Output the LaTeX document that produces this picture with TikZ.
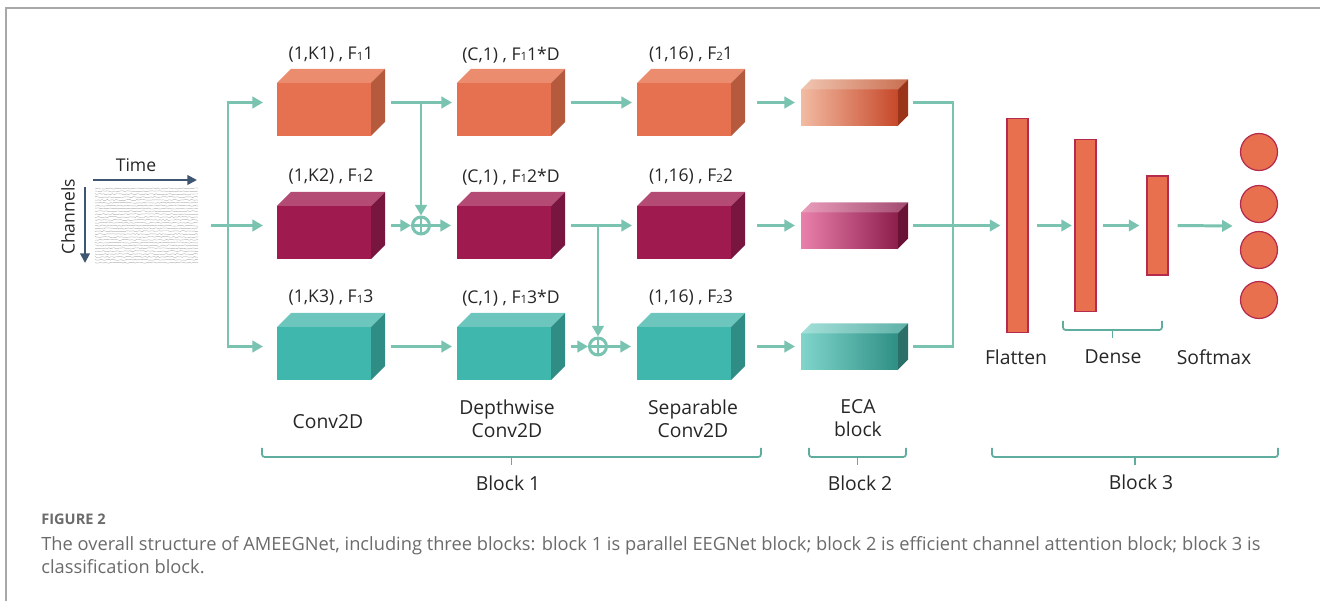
\documentclass[tikz,border=0pt]{standalone}
\usepackage{fontspec}
\setmainfont{Open Sans}
\usepackage{tikz}
\usetikzlibrary{arrows.meta}

\definecolor{flowc}{HTML}{7AC3B1}
\definecolor{bracec}{HTML}{5EAD9E}
\definecolor{axisc}{HTML}{3E5672}
\definecolor{textc}{HTML}{262626}
\definecolor{capc}{HTML}{6B6B6B}
\definecolor{framec}{HTML}{A8A8A8}
% faces of the conv blocks: front, top, side
\definecolor{orgF}{HTML}{E57150}\definecolor{orgT}{HTML}{EC8C6E}\definecolor{orgS}{HTML}{B65A3E}
\definecolor{magF}{HTML}{9E1A4F}\definecolor{magT}{HTML}{B44B74}\definecolor{magS}{HTML}{79163F}
\definecolor{tealF}{HTML}{40B7AC}\definecolor{tealT}{HTML}{6DC6BD}\definecolor{tealS}{HTML}{2F8D85}
% eca blocks, left and right ends of the shading
\definecolor{ecaoA}{HTML}{F2BBA3}\definecolor{ecaoB}{HTML}{C7482A}\definecolor{ecaoC}{HTML}{F1C6B2}\definecolor{ecaoD}{HTML}{C96E50}\definecolor{ecaoS}{HTML}{9A3519}
\definecolor{ecamA}{HTML}{EA80AC}\definecolor{ecamB}{HTML}{8C1E4C}\definecolor{ecamC}{HTML}{EA9DBC}\definecolor{ecamD}{HTML}{A24B70}\definecolor{ecamS}{HTML}{691236}
\definecolor{ecatA}{HTML}{80D5CB}\definecolor{ecatB}{HTML}{2F8F85}\definecolor{ecatC}{HTML}{A3E0D9}\definecolor{ecatD}{HTML}{5FB1A8}\definecolor{ecatS}{HTML}{2A7068}
\definecolor{barc}{HTML}{E8704E}
\definecolor{bard}{HTML}{B52B4E}

% name, x, y (front top left), width, height, depth, front, top, side
\newcommand{\drawcube}[9]{%
	\path[#7] (#2,#3) rectangle ++(#4,#5);
	\path[#8] (#2,#3) -- ++(#6,-#6) -- ++(#4,0) -- ++(-#6,#6) -- cycle;
	\path[#9] ({#2+#4},#3) -- ++(#6,-#6) -- ++(0,#5) -- ++(-#6,#6) -- cycle;
	\node (#1) [inner sep=0pt, outer sep=0pt, minimum width={(#4+#6)*0.02cm}, minimum height={(#5+#6)*0.02cm}] at ({#2+(#4+#6)/2},{#3+(#5-#6)/2}) {};
}
% x1, x2, y
\newcommand{\bracket}[3]{%
	\draw[brace] (#1,#3) -- (#1,{#3+9}) -- (#2,{#3+9}) -- (#2,#3);
	\draw[brace] ({(#1+#2)/2},{#3+9}) -- ++(0,8);
}
\newcommand{\fsub}[1]{\raisebox{-0.4pt}{\fontsize{6.5}{7}\selectfont #1}}

\begin{document}
\begin{tikzpicture}[x=0.02cm, y=-0.02cm,
	flow/.style={draw=flowc, line width=1.7pt, -{Triangle[length=6pt,width=6.5pt]}},
	link/.style={draw=flowc, line width=1.7pt},
	brace/.style={draw=bracec, line width=1pt, rounded corners=1.5pt},
	axis/.style={draw=axisc, line width=1.1pt, -{Triangle[length=5.5pt,width=5.5pt]}},
	eegline/.style={gray!60, line width=0.25pt},
	dimlabel/.style={font=\fontsize{10}{12}\selectfont, text=textc, inner sep=0pt},
	caplabel/.style={font=\fontsize{11}{13.1}\selectfont, text=textc, align=center, inner sep=0pt},
	bar/.style={fill=barc, draw=bard, line width=0.7pt, minimum width=0.42cm, inner sep=0pt},
	unit/.style={circle, fill=barc, draw=bard, line width=0.7pt, minimum size=0.74cm, inner sep=0pt},
	adder/.style={circle, draw=flowc, line width=1.7pt, minimum size=0.34cm, inner sep=0pt,
		path picture={\draw[flowc, line width=1.7pt] (path picture bounding box.north) -- (path picture bounding box.south)
			(path picture bounding box.west) -- (path picture bounding box.east);}}]
	\useasboundingbox (0,0) rectangle (1320,601);
	\draw[framec, line width=0.9pt] (1320,8) -- (6,8) -- (6,601);

	% input signal
	\node (eeg) [inner sep=0pt, minimum width=2.1cm, minimum height=1.56cm] at (146.5,225.5) {};
	\pgfmathsetseed{42}
	\foreach \k in {0,...,26}
		\draw[eegline] plot[domain=95:198, samples=60, smooth] (\x, {188.5+2.85*\k+0.6*rand});
	\node (time) [dimlabel] at (136,165) {Time};
	\node (chan) [dimlabel, rotate=90] at (68,217) {Channels};
	\coordinate (t0) at (93,180);
	\coordinate (t1) at (197,180);
	\coordinate (c0) at (85,187);
	\coordinate (c1) at (85,263);
	\draw[axis] (t0) -- (t1);
	\draw[axis] (c0) -- (c1);

	% block 1
	\drawcube{conv1}{277}{83}{94}{53}{14}{fill=orgF}{fill=orgT}{fill=orgS}
	\drawcube{conv2}{277}{206}{94}{53}{14}{fill=magF}{fill=magT}{fill=magS}
	\drawcube{conv3}{277}{327}{94}{53}{14}{fill=tealF}{fill=tealT}{fill=tealS}
	\drawcube{dw1}{457}{83}{94}{53}{14}{fill=orgF}{fill=orgT}{fill=orgS}
	\drawcube{dw2}{457}{206}{94}{53}{14}{fill=magF}{fill=magT}{fill=magS}
	\drawcube{dw3}{457}{327}{94}{53}{14}{fill=tealF}{fill=tealT}{fill=tealS}
	\drawcube{sep1}{637}{83}{94}{53}{14}{fill=orgF}{fill=orgT}{fill=orgS}
	\drawcube{sep2}{637}{206}{94}{53}{14}{fill=magF}{fill=magT}{fill=magS}
	\drawcube{sep3}{637}{327}{94}{53}{14}{fill=tealF}{fill=tealT}{fill=tealS}

	\node (lconv1) [dimlabel] at (331,55) {(1,K1) , F\fsub{1}1};
	\node (lconv2) [dimlabel] at (331,177) {(1,K2) , F\fsub{1}2};
	\node (lconv3) [dimlabel] at (331,298) {(1,K3) , F\fsub{1}3};
	\node (ldw1) [dimlabel] at (511,55) {(C,1) , F\fsub{1}1*D};
	\node (ldw2) [dimlabel] at (511,177) {(C,1) , F\fsub{1}2*D};
	\node (ldw3) [dimlabel] at (511,298) {(C,1) , F\fsub{1}3*D};
	\node (lsep1) [dimlabel] at (691,55) {(1,16) , F\fsub{2}1};
	\node (lsep2) [dimlabel] at (691,177) {(1,16) , F\fsub{2}2};
	\node (lsep3) [dimlabel] at (691,298) {(1,16) , F\fsub{2}3};

	\node (add1) [adder] at (421,225.5) {};
	\node (add2) [adder] at (598,346.5) {};
	\coordinate (fork1) at (228,102.5);
	\coordinate (fork3) at (228,346.5);
	\coordinate (tap1) at (421,102.5);
	\coordinate (tap2) at (598,225.5);

	\draw[flow, shorten <=0.24cm, shorten >=0.28cm] (eeg.east) -- (conv2.west);
	\draw[flow, shorten >=0.28cm] (fork3) -- (fork1) -- (conv1.west);
	\draw[flow, shorten >=0.28cm] (fork1) -- (fork3) -- (conv3.west);

	\draw[flow, shorten <=0.12cm, shorten >=0.1cm] (conv1.east) -- (dw1.west);
	\draw[flow] (tap1) -- (add1.north);
	\draw[flow, shorten <=0.12cm] (conv2.east) -- (add1.west);
	\draw[flow, shorten >=0.12cm] (add1.east) -- (dw2.west);
	\draw[flow, shorten <=0.12cm, shorten >=0.1cm] (conv3.east) -- (dw3.west);

	\draw[flow, shorten <=0.12cm, shorten >=0.1cm] (dw1.east) -- (sep1.west);
	\draw[flow, shorten <=0.12cm, shorten >=0.1cm] (dw2.east) -- (sep2.west);
	\draw[flow] (tap2) -- (add2.north);
	\draw[flow, shorten <=0.12cm] (dw3.east) -- (add2.west);
	\draw[flow, shorten >=0.12cm] (add2.east) -- (sep3.west);

	% block 2
	\drawcube{eca1}{801}{89.5}{97}{36}{10}{left color=ecaoA, right color=ecaoB}{left color=ecaoC, right color=ecaoD}{fill=ecaoS}
	\drawcube{eca2}{801}{212.5}{97}{36}{10}{left color=ecamA, right color=ecamB}{left color=ecamC, right color=ecamD}{fill=ecamS}
	\drawcube{eca3}{801}{333.5}{97}{36}{10}{left color=ecatA, right color=ecatB}{left color=ecatC, right color=ecatD}{fill=ecatS}
	\foreach \r in {1,2,3}
		\draw[flow, shorten <=0.24cm, shorten >=0.12cm] (sep\r.east) -- (eca\r.west);

	% block 3
	\node (flat) [bar, minimum height=4.28cm] at (1017.5,225.5) {};
	\node (dense1) [bar, minimum height=3.44cm] at (1085.5,225.5) {};
	\node (dense2) [bar, minimum height=1.98cm] at (1157.5,225.5) {};
	\node (soft) [inner sep=0pt, minimum width=0.76cm, minimum height=3.8cm] at (1259,226) {};
	\node (s1) [unit] at (1259,152) {};
	\node (s2) [unit] at (1259,204) {};
	\node (s3) [unit] at (1259,250) {};
	\node (s4) [unit] at (1259,300) {};

	\coordinate (join1) at (953,102.5);
	\coordinate (join3) at (953,346.5);
	\draw[link, shorten <=0.1cm, shorten >=0.1cm] (eca1.east) -- (join1) -- (join3) -- (eca3.east);
	\draw[flow, shorten <=0.1cm, shorten >=0.12cm] (eca2.east) -- (flat.west);
	\draw[flow, shorten <=0.16cm, shorten >=0.05cm] (flat.east) -- (dense1.west);
	\draw[flow, shorten <=0.12cm, shorten >=0.14cm] (dense1.east) -- (dense2.west);
	\draw[flow, shorten <=0.18cm, shorten >=0.14cm] (dense2.east) -- (soft.west);

	% names and brackets
	\node (nconv) [caplabel] at (328,422) {Conv2D};
	\node (ndw) [caplabel] at (507,418.5) {Depthwise\\Conv2D};
	\node (nsep) [caplabel] at (693,418.5) {Separable\\Conv2D};
	\node (neca) [caplabel] at (858,418.5) {ECA\\block};
	\node (nflat) [caplabel] at (1016,357) {Flatten};
	\node (ndense) [caplabel] at (1113,357) {Dense};
	\node (nsoft) [caplabel] at (1214,357) {Softmax};
	\bracket{1063}{1162}{321}
	\bracket{262}{761}{448}
	\bracket{809}{906}{448}
	\bracket{992}{1278}{448}
	\node (blk1) [caplabel] at (508,483) {Block 1};
	\node (blk2) [caplabel] at (860,483) {Block 2};
	\node (blk3) [caplabel] at (1141,482) {Block 3};

	% caption
	\node (figno) [anchor=base west, inner sep=0pt, text=capc, font=\fontsize{8.3}{10}\selectfont\bfseries] at (41,524) {FIGURE 2};
	\node (cap1) [anchor=base west, inner sep=0pt, text=capc, font=\fontsize{10.4}{13}\selectfont] at (41,551) {The overall structure of AMEEGNet, including three blocks: block 1 is parallel EEGNet block; block 2 is efficient channel attention block; block 3 is};
	\node (cap2) [anchor=base west, inner sep=0pt, text=capc, font=\fontsize{10.4}{13}\selectfont] at (41,574) {classification block.};
\end{tikzpicture}
\end{document}
